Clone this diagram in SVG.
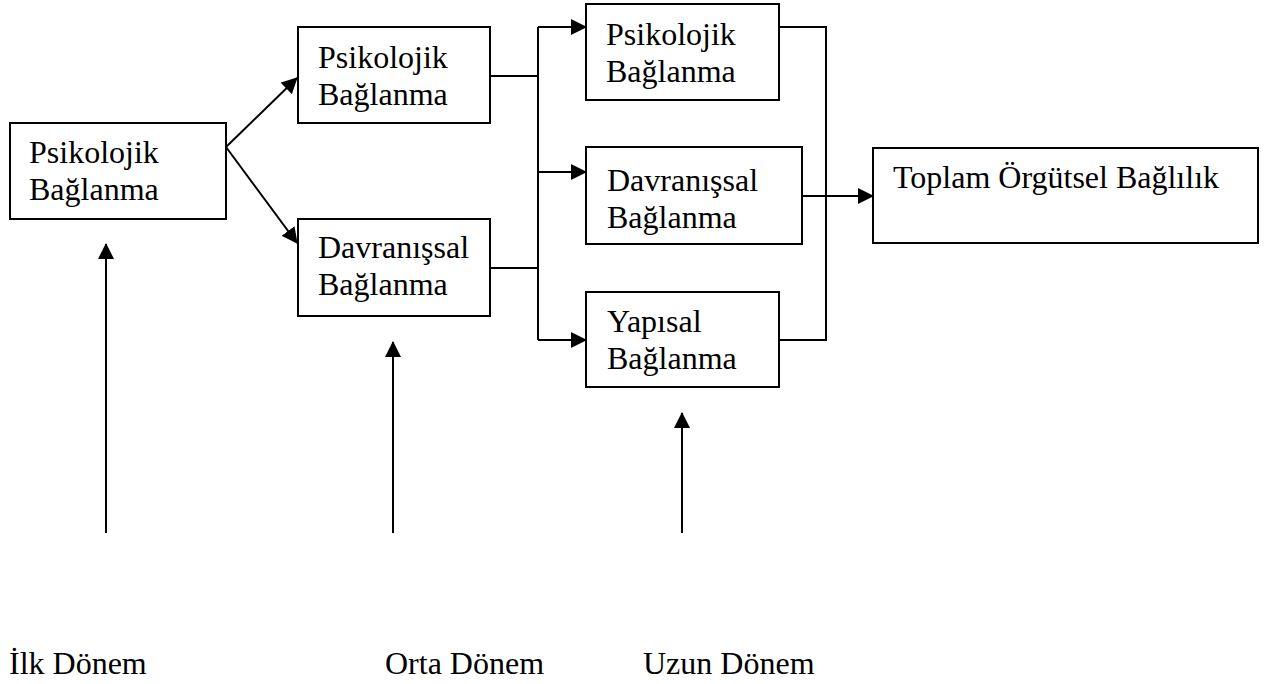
<svg xmlns="http://www.w3.org/2000/svg" width="1272" height="684" viewBox="0 0 1272 684">
<style>
.box{fill:#fff;stroke:#000;stroke-width:2}
.ln{fill:none;stroke:#000;stroke-width:2}
.t{font-family:'Liberation Serif','DejaVu Serif',serif;font-size:32px;fill:#000}
</style>
<defs>
<marker id="ah" markerUnits="userSpaceOnUse" markerWidth="16" markerHeight="16" refX="15" refY="8" orient="auto" viewBox="0 0 16 16">
<path d="M0,0 L16,8 L0,16 z" fill="#000"/>
</marker>
</defs>
<rect width="1272" height="684" fill="#fff"/>
<g id="connectors">
<line class="ln" x1="226" y1="147" x2="297" y2="78" marker-end="url(#ah)"/>
<line class="ln" x1="226" y1="147" x2="297" y2="243" marker-end="url(#ah)"/>
<polyline class="ln" points="490,76 538,76"/>
<polyline class="ln" points="490,268 538,268"/>
<line class="ln" x1="538" y1="27" x2="538" y2="340"/>
<line class="ln" x1="538" y1="27" x2="586" y2="27" marker-end="url(#ah)"/>
<line class="ln" x1="538" y1="172" x2="586" y2="172" marker-end="url(#ah)"/>
<line class="ln" x1="538" y1="340" x2="586" y2="340" marker-end="url(#ah)"/>
<polyline class="ln" points="779,27 826,27 826,340 779,340"/>
<line class="ln" x1="802" y1="196" x2="873" y2="196" marker-end="url(#ah)"/>
<line class="ln" x1="106" y1="533" x2="106" y2="244" marker-end="url(#ah)"/>
<line class="ln" x1="393" y1="533" x2="393" y2="342" marker-end="url(#ah)"/>
<line class="ln" x1="682" y1="533" x2="682" y2="413" marker-end="url(#ah)"/>
</g>
<g id="n1">
<rect class="box" x="10" y="123" width="216" height="96"/>
<text class="t" x="29" y="163">Psikolojik</text>
<text class="t" x="29" y="200">Bağlanma</text>
</g>
<g id="n2">
<rect class="box" x="298" y="27" width="192" height="96"/>
<text class="t" x="318" y="68">Psikolojik</text>
<text class="t" x="318" y="105">Bağlanma</text>
</g>
<g id="n3">
<rect class="box" x="298" y="219" width="192" height="97"/>
<text class="t" x="318" y="258">Davranışsal</text>
<text class="t" x="318" y="295">Bağlanma</text>
</g>
<g id="n4">
<rect class="box" x="586" y="4" width="193" height="96"/>
<text class="t" x="606" y="45">Psikolojik</text>
<text class="t" x="606" y="82">Bağlanma</text>
</g>
<g id="n5">
<rect class="box" x="586" y="147" width="216" height="97"/>
<text class="t" x="607" y="191">Davranışsal</text>
<text class="t" x="607" y="228">Bağlanma</text>
</g>
<g id="n6">
<rect class="box" x="586" y="292" width="193" height="95"/>
<text class="t" x="607" y="332">Yapısal</text>
<text class="t" x="607" y="369">Bağlanma</text>
</g>
<g id="n7">
<rect class="box" x="873" y="148" width="385" height="95"/>
<text class="t" x="893" y="188">Toplam Örgütsel Bağlılık</text>
</g>
<g id="labels">
<text class="t" x="9" y="674">İlk Dönem</text>
<text class="t" x="385" y="674">Orta Dönem</text>
<text class="t" x="643" y="674">Uzun Dönem</text>
</g>
</svg>
